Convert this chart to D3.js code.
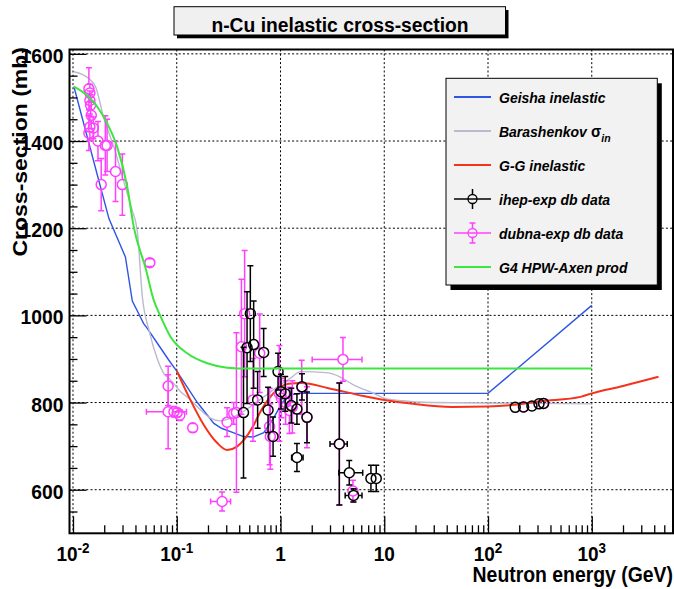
<!DOCTYPE html>
<html>
<head>
<meta charset="utf-8">
<script src="https://cdn.jsdelivr.net/npm/d3@7"></script>
<style>
  body { margin: 0; background: #fff; }
  svg { display: block; font-family: "Liberation Sans", Arial, Helvetica, sans-serif; }
</style>
</head>
<body>
<svg id="chart" width="674" height="589"></svg>
<script>
// ---- curves: [energy GeV, cross-section mb] ----
const geisha = [[0.0102,1525],[0.0177,1310],[0.0222,1222],[0.032,1134],[0.0373,1033],[0.048,981],
  [0.052,970],[0.065,936],[0.084,897],[0.1,872],[0.158,800],[0.228,752],[0.27,741],[0.35,731],
  [0.44,722],[0.55,721],[0.69,731],[0.86,765],[1.04,800],[1.25,818],[1.5,821],[100,821],[1000,1023]];

const barashenkov = [[0.0102,1559],[0.0143,1543],[0.0166,1523],[0.0197,1455],[0.0248,1386],[0.032,1294],
  [0.0372,1241],[0.0418,1190],[0.0465,1045],[0.054,966],[0.065,900],[0.075,867],[0.087,852],[0.109,825],
  [0.136,806],[0.17,783],[0.212,764],[0.264,758],[0.33,764],[0.41,775],[0.51,790],[0.69,813],[0.93,836],
  [1.25,856],[1.56,871],[2.9,868],[3.8,858],[5,841],[7.9,821],[10,810],[15,804],[28,800],[1000,797]];

const ggInelastic = [[0.1,873],[0.136,805],[0.183,748],[0.246,707],[0.306,691],[0.38,699],[0.45,716],
  [0.55,748],[0.65,782],[0.78,810],[0.93,830],[1.2,843],[1.6,845],[2.9,833],[6.3,815],[10,806],[19,797],
  [45,790],[100,791],[180,795],[320,803],[780,813],[1000,821],[2000,838],[4400,859]];

const hpwAxen = [[0.0102,1525],[0.0138,1504],[0.0172,1478],[0.0214,1440],[0.0267,1386],[0.0334,1294],
  [0.0385,1203],[0.05,1109],[0.06,1035],[0.07,997],[0.087,951],[0.126,913],[0.197,890],[0.306,880],
  [0.5,878],[1000,878]];

// ---- measured points: [energy, xs, xs error, energy low, energy high] ----
const ihepData = [[0.44,777,150],[0.476,926,128],[0.512,1004,110],[0.551,933,100],[0.602,806,65],
  [0.688,915,55],[0.759,783,52],[0.848,722,45],[0.947,871,42],[1.01,825,40],[1.11,820,40],[1.27,793,40],
  [1.44,785,35],[1.44,674,32,1.28,1.65],[1.61,836,30],[1.80,766,58],[3.69,705,140,3.0,4.4],
  [4.6,639,28,3.65,6.2],[5.06,587,15,4.2,6.1],[7.44,626,30],[8.37,626,30],
  [183,789,0],[220,790,0],[265,792,0],[310,797,0],[343,798,0]];

const dubnaData = [[0.01423,1520,48],[0.01455,1510,20],[0.01455,1493,22],[0.01478,1482,25],[0.0150,1459,30],
  [0.01455,1432,30],[0.0157,1430,25],[0.01423,1418,40],[0.0174,1400,45],[0.0205,1390,68],[0.0213,1390,60],
  [0.0187,1300,60],[0.0257,1330,69],[0.0299,1300,70],[0.055,1121,9],[0.0826,838,45],
  [0.0826,779,85,0.051,0.124],[0.094,779,12],[0.101,777,10],[0.107,771,12],[0.1426,742,10],
  [0.2735,573,22,0.212,0.33],[0.3056,755,33],[0.354,775,25],[0.376,777,183],[0.42,928,155],
  [0.451,1004,145],[0.543,806,95],[0.63,913,90],[0.785,745,88],[0.798,722,75],[0.975,821,110],
  [1.02,810,45],[1.12,800,50],[1.22,782,53],[1.3,790,60],[1.6,835,62],[1.8,766,70],[3.69,705,140],
  [4.0,899,50,2.02,6.1],[4.99,597,25],[220,790,0],[343,798,0]];

// ---- axis ticks and labels ----
const xMajor = [0.01, 0.1, 1, 10, 100, 1000];
const xMajorExp = [-2, -1, 0, 1, 2, 3];
const yMajor = [600, 800, 1000, 1200, 1400, 1600];

const titleText = "n-Cu inelastic cross-section";
const xTitle = "Neutron energy (GeV)";
const yTitle = "Cross-section (mb)";

const legendItems = [
  {name: "Geisha inelastic", color: "#2f55e4", kind: "line"},
  {name: "Barashenkov", sub: "in", color: "#b9b9cf", kind: "line"},
  {name: "G-G inelastic", color: "#f5331a", kind: "line"},
  {name: "ihep-exp db data", color: "#000", kind: "marker"},
  {name: "dubna-exp db data", color: "#ff40ff", kind: "marker", caps: true},
  {name: "G4 HPW-Axen prod", color: "#3ce63c", kind: "line"}
];

const svg = d3.select("#chart");
const L = 69.5, R = 673, T = 49.5, B = 533.3;

const x = d3.scaleLog().domain([Math.pow(10, -2.0337), Math.pow(10, 3.783)]).range([L, R]);
const y = d3.scaleLinear().domain([500, 1610]).range([B, T]);

svg.append("rect").attr("width", 674).attr("height", 589).attr("fill", "#fff");

svg.append("defs").append("clipPath").attr("id", "clip")
  .append("rect").attr("x", L).attr("y", T).attr("width", R - L).attr("height", B - T);

// grid
const grid = svg.append("g").attr("stroke", "#000").attr("stroke-width", 1).attr("stroke-dasharray", "2,2.2");
grid.selectAll(".gx").data(xMajor).join("line")
  .attr("x1", d => x(d)).attr("x2", d => x(d)).attr("y1", T).attr("y2", B);
grid.selectAll(".gy").data(yMajor).join("line")
  .attr("x1", L).attr("x2", R).attr("y1", d => y(d)).attr("y2", d => y(d));

const plot = svg.append("g").attr("clip-path", "url(#clip)");

const line = d3.line().x(d => x(d[0])).y(d => y(d[1]));
const smooth = d3.line().x(d => x(d[0])).y(d => y(d[1])).curve(d3.curveMonotoneX);

plot.append("path").datum(geisha).attr("fill", "none").attr("stroke", "#2f55e4").attr("stroke-width", 1.4).attr("d", line);
plot.append("path").datum(barashenkov).attr("fill", "none").attr("stroke", "#b9b9cf").attr("stroke-width", 1.4).attr("d", smooth);
plot.append("path").datum(ggInelastic).attr("fill", "none").attr("stroke", "#f5331a").attr("stroke-width", 2).attr("d", smooth);

const r = 5, cap = 3;
function errPath(d) {
  const [E, s, err, elo, ehi] = d;
  const cx = x(E), cy = y(s);
  let p = "";
  if (err > 0) {
    const y1 = y(s + err), y2 = y(s - err);
    if (cy - r > y1) p += `M${cx},${y1}V${cy - r}`;
    if (cy + r < y2) p += `M${cx},${cy + r}V${y2}`;
    p += `M${cx - cap},${y1}H${cx + cap}M${cx - cap},${y2}H${cx + cap}`;
  }
  if (elo) {
    const x1 = x(elo), x2 = x(ehi);
    p += `M${x1},${cy}H${cx - r}M${cx + r},${cy}H${x2}`;
    p += `M${x1},${cy - cap}V${cy + cap}M${x2},${cy - cap}V${cy + cap}`;
  }
  return p;
}

function drawPoints(data, color) {
  const g = plot.append("g");
  g.selectAll("path").data(data).join("path")
    .attr("d", errPath).attr("fill", "none").attr("stroke", color).attr("stroke-width", 1.5);
  g.selectAll("circle").data(data).join("circle")
    .attr("cx", d => x(d[0])).attr("cy", d => y(d[1])).attr("r", r)
    .attr("fill", "none").attr("stroke", color).attr("stroke-width", 1.5);
}
drawPoints(dubnaData, "#ff40ff");
drawPoints(ihepData, "#000");

plot.append("path").datum(hpwAxen).attr("fill", "none").attr("stroke", "#3ce63c").attr("stroke-width", 2).attr("d", smooth);

// ticks (inward, ROOT style)
const xMinor = [];
for (let dec = -3; dec <= 3; dec++) for (let m = 2; m <= 9; m++) {
  const v = m * Math.pow(10, dec);
  if (v > x.domain()[0] && v < x.domain()[1]) xMinor.push(v);
}
const yMinor = d3.range(550, 1610, 50).filter(v => v % 200 !== 0);

const tick = g => g.call(s => s.select(".domain").remove())
  .call(s => s.selectAll("line").attr("stroke", "#000").attr("stroke-width", 1.3));

svg.append("g").attr("transform", `translate(0,${B})`)
  .call(d3.axisBottom(x).tickValues(xMajor).tickSize(-17).tickFormat("")).call(tick);
svg.append("g").attr("transform", `translate(0,${B})`)
  .call(d3.axisBottom(x).tickValues(xMinor).tickSize(-8).tickFormat("")).call(tick);
svg.append("g").attr("transform", `translate(${L},0)`)
  .call(d3.axisLeft(y).tickValues(yMajor).tickSize(-17).tickFormat("")).call(tick);
svg.append("g").attr("transform", `translate(${L},0)`)
  .call(d3.axisLeft(y).tickValues(yMinor).tickSize(-8).tickFormat("")).call(tick);

// frame
svg.append("rect").attr("x", L).attr("y", T).attr("width", R - L).attr("height", B - T)
  .attr("fill", "none").attr("stroke", "#000").attr("stroke-width", 2);

// tick labels
const sy = 1.09;
svg.append("g").selectAll("text").data(yMajor).join("text")
  .attr("transform", d => `translate(63.5,${y(d) + 9}) scale(1,${sy})`)
  .attr("text-anchor", "end").attr("font-size", 19.3).attr("font-weight", "bold")
  .text(d => d);

const xl = svg.append("g").selectAll("text").data(xMajor).join("text")
  .attr("transform", d => `translate(${x(d)},560.5) scale(1,${sy})`)
  .attr("text-anchor", "middle").attr("font-size", 19).attr("font-weight", "bold");
xl.each(function (d, i) {
  const t = d3.select(this), e = xMajorExp[i];
  if (e === 0) t.text("1");
  else if (e === 1) t.text("10");
  else {
    t.append("tspan").text("10");
    t.append("tspan").attr("font-size", 13.5).attr("dy", -7).text(e);
  }
});

// axis titles
svg.append("text").attr("transform", `translate(673,581.5) scale(1,${sy})`)
  .attr("text-anchor", "end").attr("font-size", 19.4).attr("font-weight", "bold").text(xTitle);
svg.append("text").attr("transform", `translate(27,47) scale(1,1.18) rotate(-90)`)
  .attr("text-anchor", "end").attr("font-size", 19.5).attr("font-weight", "bold").text(yTitle);

// title box
svg.append("rect").attr("x", 177).attr("y", 10).attr("width", 331.5).attr("height", 28.3).attr("fill", "#000");
svg.append("rect").attr("x", 174).attr("y", 6.7).attr("width", 331.5).attr("height", 28.3)
  .attr("fill", "#f0f0f0").attr("stroke", "#000").attr("stroke-width", 1);
svg.append("text").attr("transform", `translate(340,31.5) scale(1,${sy})`)
  .attr("text-anchor", "middle").attr("font-size", 19.3).attr("font-weight", "bold").text(titleText);

// legend
const lx = 446, ly = 78.3, lw = 211.3, lh = 206.7;
svg.append("rect").attr("x", lx + 4.5).attr("y", ly + 5).attr("width", lw).attr("height", lh).attr("fill", "#000");
svg.append("rect").attr("x", lx).attr("y", ly).attr("width", lw).attr("height", lh)
  .attr("fill", "#f2f2f2").attr("stroke", "#000").attr("stroke-width", 1);

const leg = svg.append("g").selectAll("g").data(legendItems).join("g")
  .attr("transform", (d, i) => `translate(0,${97 + i * 34})`);
leg.append("line").attr("x1", 454).attr("x2", 491).attr("y1", 0).attr("y2", 0)
  .attr("stroke", d => d.color).attr("stroke-width", d => d.kind === "marker" ? 1.5 : 2);
leg.filter(d => d.kind === "marker").each(function (d) {
  const g = d3.select(this);
  g.append("path").attr("d", `M472.5,-10V-4.5M472.5,4.5V10` + (d.caps ? "M469.5,-10H475.5M469.5,10H475.5" : ""))
    .attr("stroke", d.color).attr("stroke-width", 1.5).attr("fill", "none");
  g.append("circle").attr("cx", 472.5).attr("cy", 0).attr("r", 4.5)
    .attr("fill", "none").attr("stroke", d.color).attr("stroke-width", 1.3);
});
const lt = leg.append("text").attr("transform", `translate(499,6) scale(1,${sy})`)
  .attr("font-size", 14).attr("font-weight", "bold").attr("font-style", "italic");
lt.each(function (d) {
  const t = d3.select(this);
  t.append("tspan").text(d.name);
  if (d.sub) {
    t.append("tspan").attr("font-style", "normal").attr("font-size", 15).text(" σ");
    t.append("tspan").attr("font-size", 10.5).attr("dy", 5).text(d.sub);
  }
});
</script>
</body>
</html>
